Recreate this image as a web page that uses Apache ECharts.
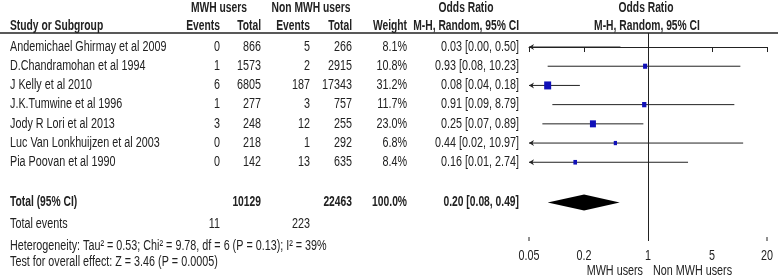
<!DOCTYPE html>
<html>
<head>
<meta charset="utf-8">
<script src="https://cdn.jsdelivr.net/npm/echarts@6/dist/echarts.min.js"></script>
<style>
  html, body { margin: 0; padding: 0; background: #fff; }
  #main { width: 778px; height: 277px; }
</style>
</head>
<body>
<div id="main"></div>
<script>
(function () {
    // study data
    var studies = ['Andemichael Ghirmay et al 2009', 'D.Chandramohan et al 1994', 'J Kelly et al 2010',
        'J.K.Tumwine et al 1996', 'Jody R Lori et al 2013', 'Luc Van Lonkhuijzen et al 2003', 'Pia Poovan et al 1990'];
    var mwhEvents = [0, 1, 6, 1, 3, 0, 0];
    var mwhTotal = [866, 1573, 6805, 277, 248, 218, 142];
    var nonEvents = [5, 2, 187, 3, 12, 1, 13];
    var nonTotal = [266, 2915, 17343, 757, 255, 292, 635];
    var weights = [8.1, 10.8, 31.2, 11.7, 23.0, 6.8, 8.4];
    var oddsRatio = [0.03, 0.93, 0.08, 0.91, 0.25, 0.44, 0.16];
    var ciLow = [0.00, 0.08, 0.04, 0.09, 0.07, 0.02, 0.01];
    var ciHigh = [0.50, 10.23, 0.18, 8.79, 0.89, 10.97, 2.74];
    // pooled: OR, low, high
    var pooled = [0.20, 0.08, 0.49];
    var totalSubjects = [10129, 22463];
    var totalEvents = [11, 223];
    var tickValues = [0.05, 0.2, 1, 5, 20];

    var FONT = "'Liberation Sans', Arial, sans-serif";
    var SX = 0.77, SX_BOLD = 0.735; // squeeze to look like a narrow face
    var TXT = '#222';
    var AX_MIN = 0.05, AX_MAX = 20;

    // row positions (y axis units)
    var totalRow = 8.1;
    var footRows = [9.2, 10.36, 11.2];

    function fmt(v) { return v.toFixed(2); }
    function ciText(i) { return fmt(oddsRatio[i]) + ' [' + fmt(ciLow[i]) + ', ' + fmt(ciHigh[i]) + ']'; }
    function clamp(v) { return Math.min(AX_MAX, Math.max(AX_MIN, v)); }

    function txt(x, y, s, align, bold) {
        return {
            type: 'text',
            x: x, y: y, scaleX: bold ? SX_BOLD : SX,
            style: {
                x: 0, y: 0, text: s, fill: TXT, align: align || 'left', verticalAlign: 'middle',
                font: (bold ? 'bold ' : '') + '14px ' + FONT
            }
        };
    }

    function arrowHead(x, y) {
        return {
            type: 'polygon',
            shape: { points: [[x, y], [x + 5, y - 3], [x + 3.5, y], [x + 5, y + 3]] },
            style: { fill: '#222' }
        };
    }

    // one study row: table text + CI line + weight square
    function renderStudy(params, api) {
        var i = api.value(2);
        var y = api.coord([1, i])[1];
        var lo = api.coord([clamp(ciLow[i]), i]);
        var hi = api.coord([clamp(ciHigh[i]), i]);
        var kids = [
            txt(10, y, studies[i]),
            txt(220, y, String(mwhEvents[i]), 'right'),
            txt(261, y, String(mwhTotal[i]), 'right'),
            txt(310, y, String(nonEvents[i]), 'right'),
            txt(352, y, String(nonTotal[i]), 'right'),
            txt(407, y, weights[i].toFixed(1) + '%', 'right'),
            txt(519, y, ciText(i), 'right'),
            {
                type: 'line',
                shape: { x1: lo[0], y1: y, x2: hi[0], y2: y },
                style: { stroke: '#222', lineWidth: 1 }
            }
        ];
        if (ciLow[i] < AX_MIN) kids.push(arrowHead(lo[0], y));
        if (oddsRatio[i] >= AX_MIN) {
            var c = api.coord([oddsRatio[i], i]);
            var s = 1.25 * Math.sqrt(weights[i]);
            kids.push({
                type: 'rect',
                shape: { x: c[0] - s / 2, y: y - s / 2 - 0.5, width: s, height: s + 1 },
                style: { fill: '#1010b8' }
            });
        }
        return { type: 'group', children: kids };
    }

    // headers, totals, diamond, axis labels and footer
    function renderFixed(params, api) {
        var yT = api.coord([1, totalRow])[1];
        var dL = api.coord([pooled[1], totalRow])[0];
        var dC = api.coord([pooled[0], totalRow])[0];
        var dR = api.coord([pooled[2], totalRow])[0];
        var x1 = api.coord([1, 0])[0];
        var f = footRows.map(function (r) { return api.coord([1, r])[1]; });
        var yAxisLine = api.coord([1, 10.1])[1];
        var yLab = api.coord([1, 11.67])[1];
        var kids = [
            txt(219, 8, 'MWH users', 'center', true),
            txt(311, 8, 'Non MWH users', 'center', true),
            txt(466, 8, 'Odds Ratio', 'center', true),
            txt(646, 8, 'Odds Ratio', 'center', true),
            txt(10, 26, 'Study or Subgroup', 'left', true),
            txt(220, 26, 'Events', 'right', true),
            txt(261, 26, 'Total', 'right', true),
            txt(310, 26, 'Events', 'right', true),
            txt(352, 26, 'Total', 'right', true),
            txt(407, 26, 'Weight', 'right', true),
            txt(519, 26, 'M-H, Random, 95% CI', 'right', true),
            txt(647, 26, 'M-H, Random, 95% CI', 'center', true),
            txt(10, yT, 'Total (95% CI)', 'left', true),
            txt(261, yT, String(totalSubjects[0]), 'right', true),
            txt(352, yT, String(totalSubjects[1]), 'right', true),
            txt(407, yT, '100.0%', 'right', true),
            txt(519, yT, fmt(pooled[0]) + ' [' + fmt(pooled[1]) + ', ' + fmt(pooled[2]) + ']', 'right', true),
            {
                type: 'polygon',
                shape: { points: [[dL, yT], [dC, yT - 8], [dR, yT], [dC, yT + 8]] },
                style: { fill: '#000' }
            },
            txt(10, f[0], 'Total events'),
            txt(220, f[0], String(totalEvents[0]), 'right'),
            txt(310, f[0], String(totalEvents[1]), 'right'),
            txt(10, f[1], 'Heterogeneity: Tau\u00b2 = 0.53; Chi\u00b2 = 9.78, df = 6 (P = 0.13); I\u00b2 = 39%'),
            txt(10, f[2], 'Test for overall effect: Z = 3.46 (P = 0.0005)'),
            txt(x1 - 5, yLab, 'MWH users', 'right'),
            txt(x1 + 5, yLab, 'Non MWH users', 'left'),
            {
                type: 'line',
                shape: { x1: 0, y1: 33, x2: 778, y2: 33 },
                style: { stroke: '#222', lineWidth: 1.5 }
            }
        ];
        // tick labels and end caps of the axis
        tickValues.forEach(function (v, k) {
            var x = api.coord([v, 10.1])[0];
            kids.push(txt(x, yAxisLine + 15, String(v), 'center'));
            if (k === 0 || k === tickValues.length - 1) {
                kids.push({
                    type: 'line',
                    shape: { x1: x, y1: yAxisLine - 4, x2: x, y2: yAxisLine },
                    style: { stroke: '#222', lineWidth: 1 }
                });
            }
        });
        return { type: 'group', children: kids };
    }

    var chart = echarts.init(document.getElementById('main'));
    chart.setOption({
        animation: false,
        textStyle: { fontFamily: FONT },
        grid: { left: 529, right: 11, top: 33, bottom: 36 },
        xAxis: {
            type: 'log',
            logBase: 10,
            min: AX_MIN,
            max: AX_MAX,
            splitLine: { show: false },
            axisLine: { lineStyle: { color: '#222', width: 1 } },
            axisTick: { customValues: tickValues, length: 5, lineStyle: { color: '#222' } },
            axisLabel: { show: false }
        },
        yAxis: {
            type: 'value',
            inverse: true,
            min: -0.73,
            max: 10.1,
            show: false
        },
        series: [
            {
                type: 'custom',
                renderItem: renderStudy,
                data: studies.map(function (s, i) { return [oddsRatio[i], i, i]; }),
                markLine: {
                    silent: true,
                    symbol: 'none',
                    label: { show: false },
                    lineStyle: { color: '#222', type: 'solid', width: 1 },
                    data: [{ xAxis: 1 }]
                }
            },
            {
                type: 'custom',
                renderItem: renderFixed,
                data: [[1, 0]]
            }
        ]
    });
})();
</script>
</body>
</html>
